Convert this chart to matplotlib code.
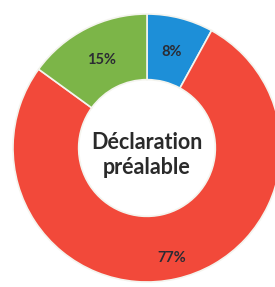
import numpy as np
import matplotlib.pyplot as plt

labels = ['8%', '77%', '15%']
values = [8, 77, 15]
colors = ['#1d8fd8', '#f2493a', '#7cb548']
label_dist = [0.74, 0.84, 0.74]
center_text = 'Déclaration\npréalable'

fig = plt.figure(figsize=(2.75, 2.87), dpi=100)
ax = fig.add_axes([0, 0, 1, 1])

wedges, _ = ax.pie(values, colors=colors, startangle=90, counterclock=False,
                   radius=1.0, wedgeprops=dict(width=0.49, edgecolor='#f4f4ee', linewidth=1.2))

for w, lab, d in zip(wedges, labels, label_dist):
    mid = np.deg2rad((w.theta1 + w.theta2) / 2)
    ax.text(d * np.cos(mid), d * np.sin(mid), lab, ha='center', va='center',
            fontsize=10.5, fontweight='bold', color='#2b2b33', family='Lato')

ax.text(0, -0.055, center_text, ha='center', va='center', fontsize=15.5,
        fontweight='bold', color='#2a2a2a', family='Lato', linespacing=1.25)

ax.set_aspect('auto')
ax.set_xlim(-147 / 134, 128 / 134)
ax.set_ylim(-139 / 134, 148 / 134)
ax.axis('off')

fig.savefig('out.png', dpi=100, facecolor='white')
